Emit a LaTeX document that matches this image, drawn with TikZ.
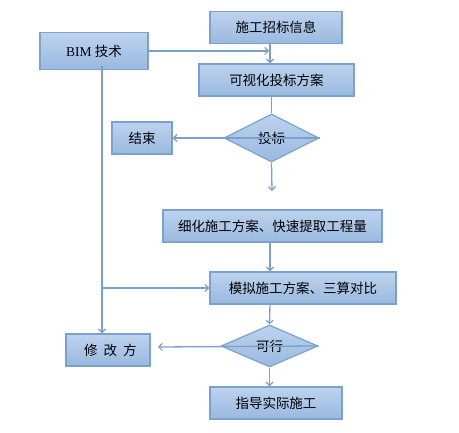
\documentclass[tikz,border=0pt]{standalone}
\usepackage{fontspec}
\setmainfont{Liberation Serif}
\newfontfamily\cjk{Noto Sans CJK SC}
\usepackage{xcolor}
\usepackage{tikz}
\usetikzlibrary{arrows.meta,shapes.geometric,positioning}

\definecolor{boxtop}{HTML}{BDD3EE}
\definecolor{boxbot}{HTML}{99B9DF}
\definecolor{boxline}{HTML}{7DA1CD}
\definecolor{flowline}{HTML}{7BA0CC}

\begin{document}
\begin{tikzpicture}[x=1pt,y=-1pt]

\tikzset{box/.style={rectangle, draw=boxline, line width=1.4pt, top color=boxtop, bottom color=boxbot, minimum width=#1, minimum height=32pt, inner sep=0pt, font=\cjk\fontsize{13.5}{15}\selectfont},
box/.default={132pt},
choice/.style={diamond, draw=boxline, line width=1.2pt, top color=boxtop, bottom color=boxbot, inner sep=0pt, font=\cjk\fontsize{13.5}{15}\selectfont},
line/.style={draw=flowline, line width=1.3pt},
arr/.style={line, -{Straight Barb[length=3.5pt,width=7pt,line width=1.2pt]}}}

\useasboundingbox (0,0) rectangle (459,433);

%boxes
\node[box] (xinxi) at (276,27.5) {施工招标信息};
\node[box=108pt, minimum height=37pt] (bim) at (94,51) {{\rmfamily BIM} 技术};
\node[box=155pt] (fangan) at (276.5,80) {可视化投标方案};
\node[choice, minimum width=95pt, minimum height=48pt] (toubiao) at (271.5,138) {投标};
\node[box=60pt] (jieshu) at (142,138) {结束};
\node[box=219pt] (xihua) at (272.5,226) {细化施工方案、快速提取工程量};
\node[box=186pt] (moni) at (303,288) {模拟施工方案、三算对比};
\node[choice, minimum width=97pt, minimum height=42pt] (kexing) at (269.5,346) {可行};
\node[box=84pt] (xiugai) at (108,350) {\hspace{5pt}修\hspace{6pt}改\hspace{6pt}方};
\node[box] (zhidao) at (276,403) {指导实际施工\hspace{12pt}};

%helper points
\coordinate (col) at (270,0);
\coordinate (bimcol) at (102,0);
\coordinate (free) at (272,191);
\coordinate (xgend) at (158,347);

%connectors
\draw[arr] (xinxi.south -| col) -- (fangan.north -| col);
\draw[arr] (bim.east) -- ([xshift=-1pt]bim.east -| col);
\draw[line] (fangan.south -| toubiao) -- (toubiao.north);
\draw[arr] (toubiao.east) -- (jieshu.east);
\draw[arr] (toubiao.south) -- (free);
\draw[arr] (xihua.south -| col) -- (moni.north -| col);
\draw[arr] ([yshift=4pt]bim.south -| bimcol) -- (xiugai.north -| bimcol);
\draw[arr] (moni.west -| bimcol) -- (moni.west);
\draw[arr] (moni.south -| col) -- (kexing.north);
\draw[arr] (kexing.east) -- (xgend);
\draw[arr] (kexing.south) -- (zhidao.north -| kexing);

\end{tikzpicture}
\end{document}
